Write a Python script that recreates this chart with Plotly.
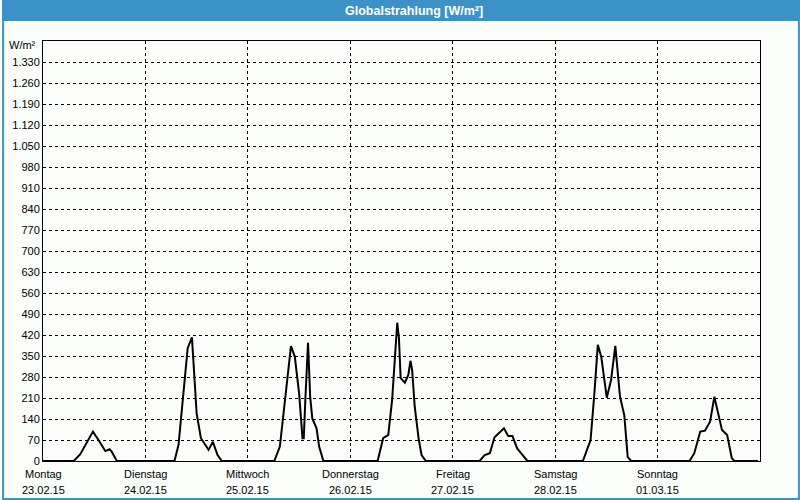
import plotly.graph_objects as go

# ---- data (hours of day, W/m²) ----
day_names = ["Montag", "Dienstag", "Mittwoch", "Donnerstag", "Freitag", "Samstag", "Sonntag"]
day_dates = ["23.02.15", "24.02.15", "25.02.15", "26.02.15", "27.02.15", "28.02.15", "01.03.15"]

mon_h = [0, 7.2, 8.7, 9.9, 11.7, 13.0, 14.6, 15.6, 16.1, 17.3]
mon_v = [0, 0, 22, 53, 98, 70, 33, 39, 31, 0]
tue_h = [6.8, 7.75, 8.9, 9.9, 10.9, 11.5, 12.0, 13.0, 14.8, 15.8, 16.9, 17.9]
tue_v = [0, 53, 214, 376, 412, 292, 159, 76, 37, 64, 20, 0]
wed_h = [6.2, 7.5, 8.7, 10.1, 11.0, 12.0, 12.8, 13.1, 13.5, 14.1, 14.6, 15.1, 16.1, 16.7, 17.7]
wed_v = [0, 48, 203, 383, 348, 226, 76, 76, 214, 394, 214, 142, 109, 48, 0]
thu_h = [6.4, 7.7, 8.9, 9.8, 10.4, 11.0, 11.4, 11.8, 12.8, 13.6, 14.1, 14.5, 15.1, 16.0, 16.7, 17.7]
thu_v = [0, 76, 87, 203, 348, 461, 409, 276, 261, 287, 334, 303, 181, 76, 20, 0]
fri_h = [6.3, 7.5, 8.7, 9.8, 12.0, 13.0, 14.0, 15.1, 16.2, 17.5]
fri_v = [0, 20, 26, 79, 109, 83, 83, 42, 23, 0]
sat_h = [6.5, 8.3, 9.2, 10.0, 10.8, 12.1, 13.1, 14.1, 15.2, 16.2, 17.0, 17.8]
sat_v = [0, 70, 226, 387, 348, 211, 270, 384, 214, 153, 14, 0]
sun_h = [7.5, 8.6, 10.0, 11.1, 12.3, 13.3, 15.1, 16.3, 17.4, 18.0, 23.5]
sun_v = [0, 26, 98, 101, 131, 214, 103, 87, 9, 0, 0]

y_ticks = list(range(0, 1331, 70))
day_ticks = [i * 24 for i in range(7)]

days_h = [mon_h, tue_h, wed_h, thu_h, fri_h, sat_h, sun_h]
days_v = [mon_v, tue_v, wed_v, thu_v, fri_v, sat_v, sun_v]
t, v = [], []
for d, (hh, vv) in enumerate(zip(days_h, days_v)):
    t += [d * 24 + h for h in hh]
    v += vv

def de_fmt(n):
    return f"{n:,}".replace(",", ".")

FONT = "Liberation Sans"
BLUE = "#3b92c6"
BG = "#fbfdfb"

fig = go.Figure()
fig.add_trace(go.Scatter(x=t, y=v, mode="lines",
                         line=dict(color="black", width=2), showlegend=False,
                         hoverinfo="skip"))

L, R, T, B = 41, 40, 41, 39
W, H = 800, 500
pw, ph = W - L - R, H - T - B

annotations = [
    dict(text="<b>Globalstrahlung [W/m²]</b>", xref="paper", yref="paper",
         x=(413 - L) / pw, y=1 + (T - 10.5) / ph, xanchor="center", yanchor="middle",
         showarrow=False, font=dict(family=FONT, size=12.5, color="white")),
    dict(text="W/m²", xref="paper", yref="paper", x=-5 / pw, y=1 - 4 / ph,
         xanchor="right", yanchor="middle", showarrow=False,
         font=dict(family=FONT, size=11, color="black")),
]
for xv, name, date in zip(day_ticks, day_names, day_dates):
    annotations.append(dict(text=name, x=xv, xref="x", yref="paper", y=-13 / ph,
                            xanchor="center", yanchor="middle", showarrow=False,
                            font=dict(family=FONT, size=11, color="black")))
    annotations.append(dict(text=date, x=xv, xref="x", yref="paper", y=-29 / ph,
                            xanchor="center", yanchor="middle", showarrow=False,
                            font=dict(family=FONT, size=11, color="black")))

fig.update_layout(
    width=W, height=H,
    margin=dict(l=L, r=R, t=T, b=B, pad=0),
    paper_bgcolor=BG, plot_bgcolor=BG,
    font=dict(family=FONT, size=11, color="black"),
    xaxis=dict(range=[0, 168], tickvals=day_ticks, showticklabels=False,
               showgrid=True, gridcolor="black", griddash="3px,3px", gridwidth=1,
               showline=True, linecolor="black", linewidth=1, mirror=True,
               zeroline=False, ticks="", fixedrange=True),
    yaxis=dict(range=[0, 1400], tickvals=y_ticks,
               ticktext=[de_fmt(n) for n in y_ticks],
               showgrid=True, gridcolor="black", griddash="3px,3px", gridwidth=1,
               showline=True, linecolor="black", linewidth=1, mirror=True,
               zeroline=False, ticks="", fixedrange=True),
    shapes=[
        dict(type="rect", xref="paper", yref="paper",
             x0=-L / pw, x1=1 + R / pw, y0=1 + (T - 21) / ph, y1=1 + T / ph,
             fillcolor=BLUE, line=dict(width=0), layer="below"),
        dict(type="rect", xref="paper", yref="paper",
             x0=-(L - 1) / pw, x1=1 + (R - 1) / pw, y0=-(B - 1) / ph, y1=1 + (T - 1) / ph,
             fillcolor="rgba(0,0,0,0)", line=dict(color=BLUE, width=2)),
    ],
    annotations=annotations,
)

fig.write_html("out.html")
